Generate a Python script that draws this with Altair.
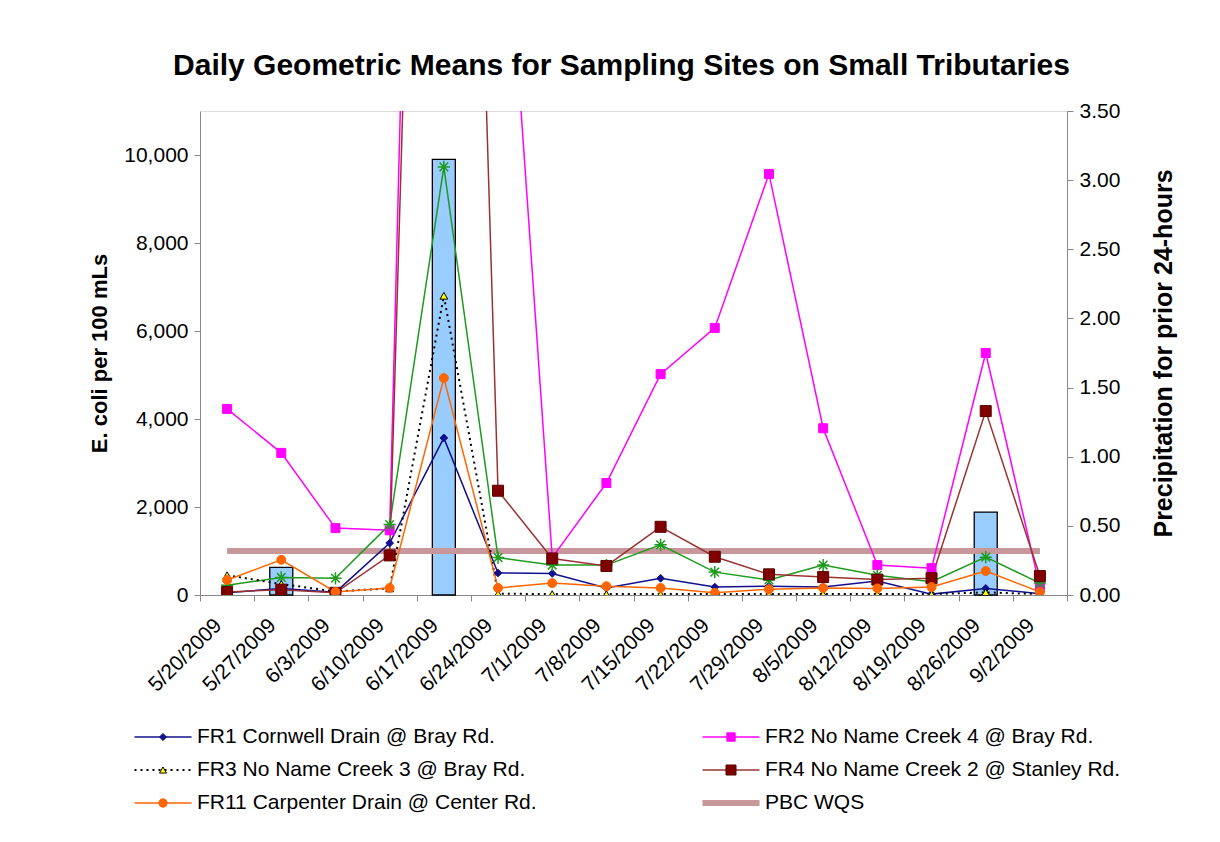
import altair as alt
import pandas as pd

FONT = "Liberation Sans"

dates = ["5/20/2009", "5/27/2009", "6/3/2009", "6/10/2009", "6/17/2009", "6/24/2009",
         "7/1/2009", "7/8/2009", "7/15/2009", "7/22/2009", "7/29/2009", "8/5/2009",
         "8/12/2009", "8/19/2009", "8/26/2009", "9/2/2009"]

precip = [0, 0.20, 0, 0, 3.15, 0, 0, 0, 0, 0, 0, 0, 0, 0, 0.60, 0]

fr1 = [50, 150, 60, 1180, 3570, 500, 490, 160, 380, 180, 200, 180, 320, 20, 150, 30]
fr2 = [4230, 3230, 1520, 1470, 50000, 18500, 850, 2545, 5020, 6070, 9570, 3790, 680, 610, 5500, 180]
fr3 = [450, 250, 80, 150, 6800, 30, 20, 20, 20, 20, 20, 20, 20, 20, 60, 20]
fr4 = [70, 120, 50, 900, 43000, 2370, 830, 660, 1550, 870, 470, 410, 350, 380, 4180, 430]
fr11 = [340, 800, 70, 160, 4930, 160, 270, 200, 160, 50, 130, 160, 150, 180, 545, 70]
green = [220, 400, 380, 1600, 9730, 850, 680, 680, 1140, 520, 340, 680, 450, 300, 860, 270]
wqs = [1000] * 16

left_ticks = [0, 2000, 4000, 6000, 8000, 10000]
right_ticks = [0, 0.5, 1, 1.5, 2, 2.5, 3, 3.5]

legend_names = ["FR1 Cornwell Drain @ Bray Rd.", "FR2 No Name Creek 4 @ Bray Rd.",
                "FR3 No Name Creek 3 @ Bray Rd.", "FR4 No Name Creek 2 @ Stanley Rd.",
                "FR11 Carpenter Drain @ Center Rd.", "PBC WQS"]
legend_col = [0, 1, 0, 1, 0, 1]
legend_row = [0, 0, 1, 1, 2, 2]

df = pd.DataFrame({"date": dates, "precip": precip, "fr1": fr1, "fr2": fr2, "fr3": fr3,
                   "fr4": fr4, "fr11": fr11, "green": green, "wqs": wqs})
leg_df = pd.DataFrame({"name": legend_names, "col": legend_col, "row": legend_row})

x_enc = alt.X("date:N", sort=dates,
              scale=alt.Scale(domain=dates, paddingInner=0, paddingOuter=0),
              axis=alt.Axis(title=None, labelAngle=315, labelAlign="right", labelBaseline="middle",
                            labelFontSize=21, labelPadding=21, labelOffset=-9, tickBand="extent",
                            tickSize=6, labelOverlap=False, grid=False))

left_axis = alt.Axis(values=left_ticks, labelExpr="format(datum.value, ',')", orient="left",
                     labelFontSize=21, tickSize=6, labelPadding=6, grid=False,
                     title="E. coli  per 100 mLs", titleFontSize=22, titleFontWeight="bold",
                     titlePadding=12)
y_scale = alt.Scale(domain=[0, 11000], nice=False)


def yl(field):
    return alt.Y(field + ":Q", scale=y_scale, axis=left_axis, title="E. coli  per 100 mLs")


bars = alt.Chart(df).transform_filter("datum.precip > 0").mark_bar(
    size=23, fill="#99CCFF", stroke="black", strokeWidth=1.3
).encode(
    x=x_enc,
    y=alt.Y("precip:Q", scale=alt.Scale(domain=[0, 3.5], nice=False),
            axis=alt.Axis(orient="right", values=right_ticks,
                          labelExpr="format(datum.value, '.2f')", grid=False,
                          labelFontSize=21, tickSize=6, labelPadding=6,
                          title="Precipitation for prior 24-hours", titleAngle=270,
                          titleBaseline="top",
                          titleFontSize=25, titleFontWeight="bold", titlePadding=32))
)

wqs_line = alt.Chart(df).mark_line(color="#C8979B", strokeWidth=6, clip=True).encode(x=x_enc, y=yl("wqs"))

STAR = "M-1,0L1,0M0,-1L0,1M-0.7,-0.7L0.7,0.7M-0.7,0.7L0.7,-0.7"

series = [
    # field, line color, dash, shape, fill, stroke, size
    ("fr1", "#10108C", None, "diamond", "#10108C", "#10108C", 60),
    ("fr2", "#FF00FF", None, "square", "#FF00FF", "#FF00FF", 81),
    ("green", "#1E9A1E", None, STAR, None, "#1E9A1E", 150),
    ("fr3", "black", [2, 4], "triangle-up", "#FFFF00", "black", 60),
    ("fr4", "#993333", None, "square", "#800000", "#5A0000", 121),
    ("fr11", "#FF6600", None, "circle", "#FF6600", "#FF6600", 80),
]

line_layers = []
point_layers = []
for field, col, dash, shape, fill, stroke, size in series:
    lkw = dict(color=col, strokeWidth=2 if dash else 1.5, clip=True)
    if dash:
        lkw["strokeDash"] = dash
    line_layers.append(alt.Chart(df).mark_line(**lkw).encode(x=x_enc, y=yl(field)))
    pkw = dict(shape=shape, size=size, stroke=stroke, strokeWidth=1.5 if fill is None else 1,
               opacity=1, clip=True)
    if fill is None:
        pkw["filled"] = False
    else:
        pkw["filled"] = True
        pkw["fill"] = fill
    point_layers.append(alt.Chart(df).mark_point(**pkw).encode(x=x_enc, y=yl(field)))

lines = alt.layer(wqs_line, *line_layers, *point_layers)
main = alt.layer(bars, lines).resolve_scale(y="independent")

# custom legend
lx = alt.X("col:Q", scale=alt.Scale(domain=[0, 1], range=[-37, 531]), axis=None)
ly = alt.Y("row:Q", scale=alt.Scale(domain=[0, 2], range=[626, 692]), axis=None)

leg_styles = {
    "FR1 Cornwell Drain @ Bray Rd.": ("#10108C", 1.5, None, "diamond", "#10108C", "#10108C", 50),
    "FR2 No Name Creek 4 @ Bray Rd.": ("#FF00FF", 1.5, None, "square", "#FF00FF", "#FF00FF", 70),
    "FR3 No Name Creek 3 @ Bray Rd.": ("black", 2, [2, 4], "triangle-up", "#FFFF00", "black", 50),
    "FR4 No Name Creek 2 @ Stanley Rd.": ("#993333", 1.5, None, "square", "#800000", "#5A0000", 100),
    "FR11 Carpenter Drain @ Center Rd.": ("#FF6600", 1.5, None, "circle", "#FF6600", "#FF6600", 70),
    "PBC WQS": ("#C8979B", 6, None, None, None, None, 0),
}

leg_layers = []
for name in legend_names:
    col, sw, dash, shape, fill, stroke, size = leg_styles[name]
    base = alt.Chart(leg_df).transform_filter(alt.datum.name == name)
    kw = dict(shape="M-1,0L1,0", size=3249, filled=False, stroke=col, strokeWidth=sw, opacity=1)
    if dash:
        kw["strokeDash"] = dash
    leg_layers.append(base.mark_point(**kw).encode(x=lx, y=ly))
    if shape:
        leg_layers.append(base.mark_point(shape=shape, size=size, filled=True, fill=fill,
                                          stroke=stroke, strokeWidth=1, opacity=1).encode(x=lx, y=ly))

leg_text = alt.Chart(leg_df).mark_text(align="left", baseline="middle", dx=34, fontSize=21,
                                       font=FONT, color="black").encode(x=lx, y=ly, text="name:N")

chart = alt.layer(main, *leg_layers, leg_text).resolve_scale(x="independent", y="independent").properties(
    width=867, height=484,
    autosize=alt.AutoSizeParams(type="none"),
    padding={"left": 192, "top": 103, "right": 145, "bottom": 240},
    title=alt.TitleParams("Daily Geometric Means for Sampling Sites on Small Tributaries",
                          fontSize=30, font=FONT, fontWeight="bold", offset=19, anchor="middle",
                          color="black", dx=-12),
).configure_view(stroke="black", strokeWidth=1.5).configure_axis(
    labelFont=FONT, titleFont=FONT, labelColor="black", titleColor="black", grid=False,
    domainColor="black", tickColor="black", domainWidth=1.5, tickWidth=1.2
).configure(background="white")

chart.save("out.html", embed_options={"renderer": "svg", "actions": False})
